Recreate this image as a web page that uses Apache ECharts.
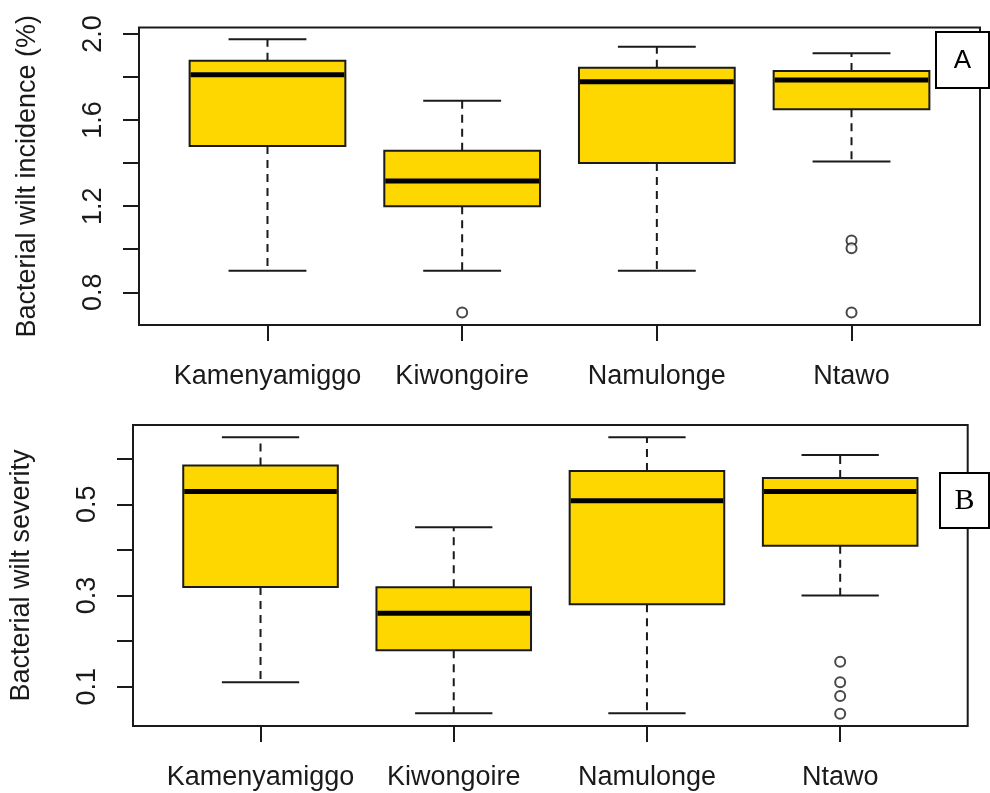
<!DOCTYPE html>
<html>
<head>
<meta charset="utf-8">
<script src="https://cdn.jsdelivr.net/npm/echarts@6/dist/echarts.min.js"></script>
<style>
  html, body { margin: 0; padding: 0; background: #fff; }
  #chart { width: 990px; height: 793px; }
</style>
</head>
<body>
<div id="chart"></div>
<script>
// sites along the x axis
var sites = ['Kamenyamiggo', 'Kiwongoire', 'Namulonge', 'Ntawo'];

// box stats per site: [lower whisker, Q1, median, Q3, upper whisker]
var incidenceStats = [
  [0.90, 1.48, 1.81, 1.876, 1.975],
  [0.90, 1.20, 1.317, 1.457, 1.69],
  [0.90, 1.40, 1.778, 1.843, 1.94],
  [1.407, 1.65, 1.786, 1.828, 1.91]
];
// outliers: [site number, value]
var incidenceOutliers = [[2, 0.706], [4, 1.04], [4, 1.005], [4, 0.706]];

var severityStats = [
  [0.11, 0.319, 0.528, 0.585, 0.647],
  [0.042, 0.18, 0.261, 0.318, 0.45],
  [0.042, 0.281, 0.508, 0.573, 0.647],
  [0.30, 0.409, 0.528, 0.558, 0.608]
];
var severityOutliers = [[4, 0.155], [4, 0.11], [4, 0.08], [4, 0.041]];

// tick values
var incidenceTicks = [0.8, 1.0, 1.2, 1.4, 1.6, 1.8, 2.0];
var incidenceLabels = [0.8, 1.2, 1.6, 2.0];
var severityTicks = [0.1, 0.2, 0.3, 0.4, 0.5, 0.6];
var severityLabels = [0.1, 0.3, 0.5];
var sitePos = [1, 2, 3, 4];

var ink = '#1a1a1a';
var font = '"Liberation Sans", Arial, sans-serif';

function renderBox(params, api) {
  var x = api.value(0);
  var lo = api.value(1), q1 = api.value(2), med = api.value(3), q3 = api.value(4), hi = api.value(5);
  var tl = api.coord([x - 0.4, q3]);
  var br = api.coord([x + 0.4, q1]);
  var c = api.coord([x, med]);
  var pHi = api.coord([x, hi]);
  var pLo = api.coord([x, lo]);
  var capL = api.coord([x - 0.2, hi])[0];
  var capR = api.coord([x + 0.2, hi])[0];
  var dash = { stroke: ink, lineWidth: 2, lineDash: [8, 6] };
  var solid = { stroke: ink, lineWidth: 2 };
  return {
    type: 'group',
    children: [
      { type: 'line', shape: { x1: c[0], y1: tl[1], x2: c[0], y2: pHi[1] }, style: dash },
      { type: 'line', shape: { x1: c[0], y1: br[1], x2: c[0], y2: pLo[1] }, style: dash },
      { type: 'line', shape: { x1: capL, y1: pHi[1], x2: capR, y2: pHi[1] }, style: solid },
      { type: 'line', shape: { x1: capL, y1: pLo[1], x2: capR, y2: pLo[1] }, style: solid },
      { type: 'rect', shape: { x: tl[0], y: tl[1], width: br[0] - tl[0], height: br[1] - tl[1] },
        style: { fill: '#FFD700', stroke: ink, lineWidth: 2 } },
      { type: 'line', shape: { x1: tl[0] + 1, y1: c[1], x2: br[0] - 1, y2: c[1] },
        style: { stroke: '#000', lineWidth: 5 } }
    ]
  };
}

function xAxisFor(idx) {
  return {
    gridIndex: idx, type: 'value', min: 0.34, max: 4.66,
    splitLine: { show: false }, axisLine: { show: false },
    axisTick: { customValues: sitePos, length: 16, lineStyle: { color: ink, width: 2 } },
    axisLabel: {
      customValues: sitePos, margin: 38, color: ink, fontSize: 27, fontFamily: font,
      formatter: function (v) { return sites[Math.round(v) - 1]; }
    }
  };
}

function yAxisFor(idx, min, max, ticks, labels, name) {
  return {
    gridIndex: idx, type: 'value', min: min, max: max,
    splitLine: { show: false }, axisLine: { show: false },
    axisTick: { customValues: ticks, length: 16, lineStyle: { color: ink, width: 2 } },
    axisLabel: {
      customValues: labels, rotate: 90, margin: 32, color: ink, fontSize: 27, fontFamily: font,
      formatter: function (v) { return v.toFixed(1); }
    },
    name: name, nameLocation: 'middle', nameRotate: 90, nameGap: 98,
    nameTextStyle: { color: ink, fontSize: 27, fontFamily: font }
  };
}

var myChart = echarts.init(document.getElementById('chart'), null, { renderer: 'canvas' });
var option = {
  animation: false,
  backgroundColor: '#fff',
  grid: [
    { left: 139, top: 27.5, width: 841, height: 297.5, show: true, borderColor: ink, borderWidth: 2 },
    { left: 132.7, top: 425, width: 835, height: 301, show: true, borderColor: ink, borderWidth: 2 }
  ],
  xAxis: [xAxisFor(0), xAxisFor(1)],
  yAxis: [
    yAxisFor(0, 0.648, 2.030, incidenceTicks, incidenceLabels, 'Bacterial wilt incidence (%)'),
    yAxisFor(1, 0.014, 0.674, severityTicks, severityLabels, 'Bacterial wilt severity')
  ],
  series: [
    {
      type: 'custom', xAxisIndex: 0, yAxisIndex: 0, renderItem: renderBox,
      encode: { x: 0, y: [1, 2, 3, 4, 5] },
      data: incidenceStats.map(function (s, i) { return [i + 1].concat(s); })
    },
    {
      type: 'scatter', xAxisIndex: 0, yAxisIndex: 0, symbol: 'emptyCircle', symbolSize: 10,
      itemStyle: { color: ink, borderWidth: 1.6 }, data: incidenceOutliers
    },
    {
      type: 'custom', xAxisIndex: 1, yAxisIndex: 1, renderItem: renderBox,
      encode: { x: 0, y: [1, 2, 3, 4, 5] },
      data: severityStats.map(function (s, i) { return [i + 1].concat(s); })
    },
    {
      type: 'scatter', xAxisIndex: 1, yAxisIndex: 1, symbol: 'emptyCircle', symbolSize: 10,
      itemStyle: { color: ink, borderWidth: 1.6 }, data: severityOutliers
    }
  ],
  graphic: [
    { type: 'rect', z: 100, shape: { x: 936, y: 32, width: 53, height: 56 },
      style: { fill: '#fff', stroke: '#000', lineWidth: 2 } },
    { type: 'text', z: 101, x: 962.5, y: 61,
      style: { text: 'A', fill: '#000', fontSize: 26, fontFamily: '"Liberation Sans", sans-serif', align: 'center', verticalAlign: 'middle' } },
    { type: 'rect', z: 100, shape: { x: 940, y: 473, width: 49, height: 55 },
      style: { fill: '#fff', stroke: '#000', lineWidth: 2 } },
    { type: 'text', z: 101, x: 964.5, y: 501,
      style: { text: 'B', fill: '#000', fontSize: 30, fontFamily: '"Liberation Serif", serif', align: 'center', verticalAlign: 'middle' } }
  ]
};
myChart.setOption(option);
</script>
</body>
</html>
